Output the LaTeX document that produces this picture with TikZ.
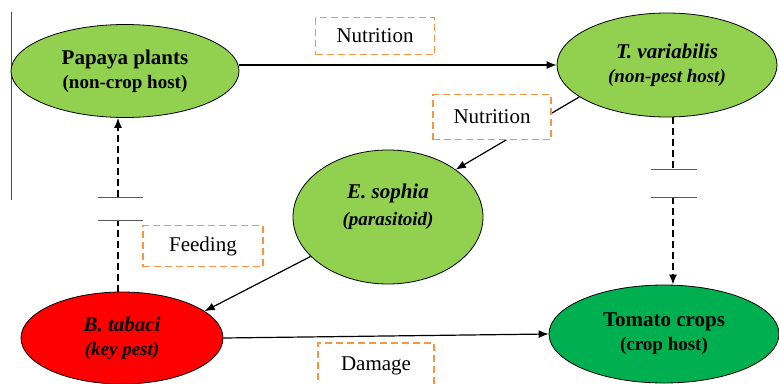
\documentclass[tikz,border=0pt]{standalone}
\usepackage{fontspec}
\setmainfont{Liberation Serif}
\newfontfamily\tnr{Liberation Serif}
\usetikzlibrary{shapes.geometric,arrows.meta}

\definecolor{lightgrn}{RGB}{146,208,80}
\definecolor{cropgrn}{RGB}{0,176,80}
\definecolor{boxorange}{RGB}{244,150,70}

\newcommand{\sub}{\fontsize{19}{24}\selectfont}

\begin{document}
\begin{tikzpicture}[x=1pt,y=-1pt,
  bubble/.style={ellipse, draw=black, line width=0.8pt, inner sep=0pt, align=center,
    font=\tnr\fontsize{21}{24}\selectfont\bfseries},
  tagbox/.style={draw=boxorange, fill=white, line width=1.5pt, dash pattern=on 7pt off 4pt,
    minimum width=#1, font=\tnr\fontsize{21}{25}\selectfont},
  link/.style={line width=1.2pt, -{Latex[length=10pt,width=8pt]}},
  dashlink/.style={line width=1.4pt, dash pattern=on 7pt off 4pt},
  cut/.style={line width=0.9pt, gray!70!black}]
  \useasboundingbox (0,0) rectangle (779,383);

  % page edge rule
  \draw[line width=1pt, gray!60!black] (11,12) -- (11,200);

  % hosts and insects
  \node[bubble, fill=lightgrn, minimum width=228, minimum height=93] (papaya) at (125,71)
    {Papaya plants\\ \sub (non-crop host)};
  \node[bubble, fill=lightgrn, minimum width=220, minimum height=104] (tvar) at (667,65)
    {\itshape T. variabilis\\ \sub\itshape (non-pest host)};
  \node[bubble, fill=lightgrn, minimum width=190, minimum height=134] (esoph) at (388,217)
    {\itshape E. sophia\\[3pt] \sub\itshape (parasitoid)\\[1pt]\mbox{}};
  \node[bubble, fill=red, minimum width=202, minimum height=92] (btab) at (122,338)
    {\itshape B. tabaci\\ \sub\itshape (key pest)};
  \node[bubble, fill=cropgrn, minimum width=230, minimum height=98] (tomato) at (664,334)
    {Tomato crops\\ \sub (crop host)};

  % solid links
  \draw[link] (tvar.west -| papaya.east) -- (tvar.west);
  \draw[link] (tvar.200) -- (esoph.35);
  \draw[link] (esoph.207) -- (btab.18);
  \draw[link] (btab.east) -- (tomato.west);

  % interrupted links
  \coordinate (cutA) at (118,220);
  \coordinate (cutB) at (118,197);
  \draw[dashlink] (cutA |- btab.north) -- (cutA);
  \draw[dashlink, -{Latex[length=10pt,width=8pt]}] (cutB) -- (cutB |- papaya.south);
  \draw[cut] ([xshift=-20]cutA) -- ([xshift=25]cutA);
  \draw[cut] ([xshift=-20]cutB) -- ([xshift=25]cutB);

  \coordinate (cutC) at (673,169);
  \coordinate (cutD) at (673,197);
  \draw[dashlink] (cutC |- tvar.south) -- (cutC);
  \draw[dashlink, -{Latex[length=10pt,width=8pt]}] (cutD) -- (cutD |- tomato.north);
  \draw[cut] ([xshift=-22]cutC) -- ([xshift=24]cutC);
  \draw[cut] ([xshift=-22]cutD) -- ([xshift=24]cutD);

  % link labels
  \node[tagbox=119, minimum height=37] (nutA) at (375,36) {Nutrition};
  \node[tagbox=118, minimum height=45] (nutB) at (492,117) {Nutrition};
  \node[tagbox=120, minimum height=41] (feed) at (203,246) {Feeding};
  \node[tagbox=116, minimum height=46] (dmg) at (376,366) {Damage};
\end{tikzpicture}
\end{document}
